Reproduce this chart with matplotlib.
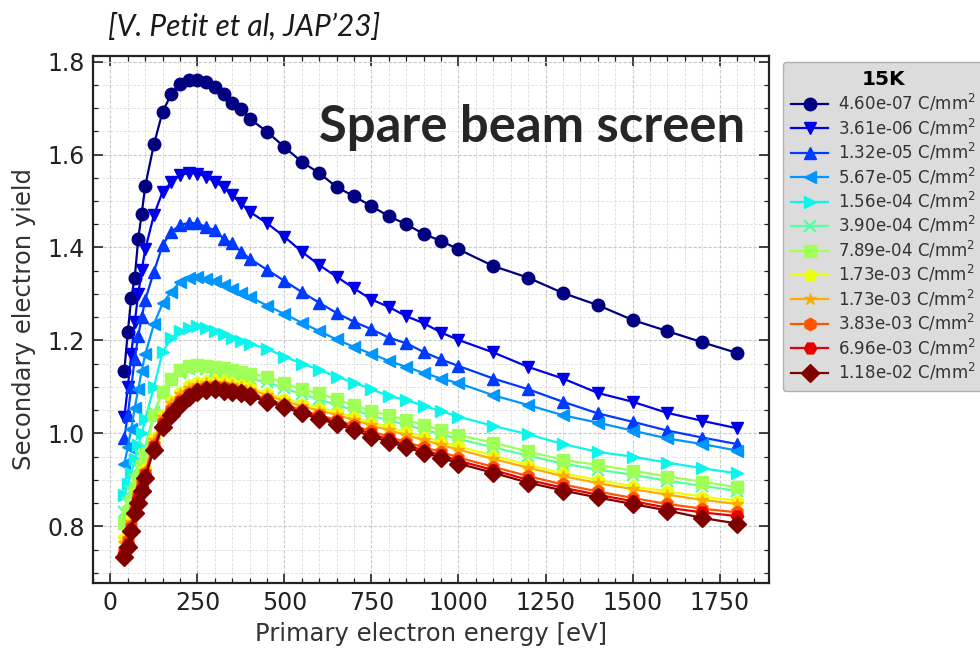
import numpy as np
import matplotlib
matplotlib.use("Agg")
import matplotlib.pyplot as plt
from matplotlib.ticker import MultipleLocator

energy = [40, 50, 60, 70, 80, 90, 100, 125, 150, 175, 200, 225, 250, 275, 300, 325, 350, 375, 400,
          450, 500, 550, 600, 650, 700, 750, 800, 850, 900, 950, 1000,
          1100, 1200, 1300, 1400, 1500, 1600, 1700, 1800]

sey_1 = [1.135, 1.218, 1.292, 1.335, 1.419, 1.473, 1.532, 1.622, 1.692, 1.730, 1.751, 1.761, 1.761, 1.756, 1.745, 1.731, 1.711, 1.699, 1.677,
         1.649, 1.616, 1.584, 1.560, 1.530, 1.510, 1.489, 1.467, 1.450, 1.429, 1.414, 1.396,
         1.360, 1.335, 1.302, 1.276, 1.244, 1.220, 1.196, 1.173]
sey_2 = [1.035, 1.100, 1.170, 1.240, 1.300, 1.351, 1.396, 1.470, 1.520, 1.540, 1.556, 1.560, 1.559, 1.552, 1.541, 1.530, 1.512, 1.495, 1.477,
         1.452, 1.423, 1.391, 1.362, 1.337, 1.312, 1.288, 1.272, 1.252, 1.237, 1.217, 1.201,
         1.174, 1.143, 1.118, 1.087, 1.068, 1.044, 1.027, 1.011]
sey_3 = [0.990, 1.040, 1.100, 1.160, 1.210, 1.250, 1.287, 1.348, 1.405, 1.434, 1.448, 1.453, 1.452, 1.444, 1.437, 1.419, 1.409, 1.391, 1.376,
         1.352, 1.328, 1.304, 1.281, 1.259, 1.240, 1.224, 1.206, 1.194, 1.175, 1.159, 1.145,
         1.118, 1.095, 1.068, 1.043, 1.025, 1.006, 0.991, 0.977]
sey_4 = [0.935, 0.970, 1.010, 1.055, 1.095, 1.135, 1.170, 1.235, 1.280, 1.305, 1.326, 1.335, 1.337, 1.333, 1.328, 1.319, 1.310, 1.301, 1.294,
         1.275, 1.257, 1.238, 1.220, 1.202, 1.186, 1.171, 1.156, 1.143, 1.130, 1.118, 1.108,
         1.082, 1.061, 1.039, 1.023, 1.006, 0.989, 0.977, 0.963]
sey_5 = [0.868, 0.890, 0.915, 0.945, 0.975, 1.000, 1.030, 1.100, 1.175, 1.205, 1.220, 1.226, 1.230, 1.226, 1.220, 1.213, 1.205, 1.199, 1.193,
         1.182, 1.165, 1.150, 1.137, 1.122, 1.109, 1.095, 1.080, 1.072, 1.059, 1.048, 1.036,
         1.016, 0.998, 0.977, 0.960, 0.950, 0.937, 0.925, 0.914]
sey_6 = [0.830, 0.850, 0.875, 0.900, 0.925, 0.950, 0.970, 1.045, 1.090, 1.115, 1.130, 1.138, 1.140, 1.138, 1.135, 1.131, 1.127, 1.122, 1.118,
         1.110, 1.097, 1.084, 1.073, 1.061, 1.050, 1.038, 1.028, 1.018, 1.008, 0.998, 0.988,
         0.970, 0.952, 0.935, 0.922, 0.911, 0.898, 0.887, 0.876]
sey_7 = [0.808, 0.830, 0.855, 0.880, 0.905, 0.930, 0.955, 1.040, 1.090, 1.118, 1.136, 1.145, 1.148, 1.146, 1.143, 1.140, 1.136, 1.132, 1.128,
         1.122, 1.108, 1.095, 1.086, 1.073, 1.061, 1.048, 1.039, 1.029, 1.018, 1.007, 0.996,
         0.980, 0.961, 0.943, 0.932, 0.920, 0.907, 0.896, 0.884]
sey_8 = [0.775, 0.790, 0.815, 0.845, 0.875, 0.900, 0.925, 0.990, 1.040, 1.070, 1.090, 1.103, 1.110, 1.113, 1.114, 1.112, 1.109, 1.105, 1.099,
         1.087, 1.075, 1.064, 1.055, 1.046, 1.035, 1.023, 1.013, 1.002, 0.992, 0.982, 0.972,
         0.952, 0.932, 0.914, 0.900, 0.886, 0.875, 0.864, 0.855]
sey_9 = [0.765, 0.785, 0.810, 0.840, 0.870, 0.895, 0.920, 0.985, 1.035, 1.065, 1.085, 1.098, 1.105, 1.108, 1.109, 1.107, 1.104, 1.100, 1.094,
         1.082, 1.070, 1.058, 1.049, 1.040, 1.029, 1.017, 1.007, 0.996, 0.986, 0.975, 0.965,
         0.945, 0.926, 0.908, 0.893, 0.880, 0.868, 0.857, 0.848]
sey_10 = [0.750, 0.770, 0.800, 0.835, 0.865, 0.890, 0.915, 0.975, 1.025, 1.052, 1.072, 1.087, 1.096, 1.100, 1.101, 1.099, 1.096, 1.092, 1.086,
          1.074, 1.062, 1.050, 1.039, 1.029, 1.017, 1.004, 0.993, 0.981, 0.970, 0.960, 0.948,
          0.928, 0.908, 0.890, 0.875, 0.861, 0.848, 0.838, 0.830]
sey_11 = [0.742, 0.762, 0.795, 0.832, 0.860, 0.885, 0.910, 0.970, 1.020, 1.046, 1.067, 1.082, 1.092, 1.096, 1.098, 1.096, 1.093, 1.089, 1.083,
          1.071, 1.059, 1.046, 1.035, 1.024, 1.012, 0.998, 0.987, 0.975, 0.963, 0.953, 0.941,
          0.921, 0.900, 0.883, 0.868, 0.854, 0.840, 0.830, 0.822]
sey_12 = [0.733, 0.756, 0.790, 0.828, 0.850, 0.875, 0.905, 0.965, 1.014, 1.040, 1.062, 1.078, 1.089, 1.093, 1.095, 1.092, 1.090, 1.086, 1.080,
          1.068, 1.056, 1.043, 1.031, 1.020, 1.007, 0.993, 0.982, 0.970, 0.958, 0.948, 0.935,
          0.915, 0.894, 0.877, 0.862, 0.848, 0.834, 0.818, 0.806]

doses = ["4.60e-07", "3.61e-06", "1.32e-05", "5.67e-05", "1.56e-04", "3.90e-04",
         "7.89e-04", "1.73e-03", "1.73e-03", "3.83e-03", "6.96e-03", "1.18e-02"]
series = [sey_1, sey_2, sey_3, sey_4, sey_5, sey_6, sey_7, sey_8, sey_9, sey_10, sey_11, sey_12]
markers = ['o', 'v', '^', '<', '>', 'x', 's', 'p', '*', 'h', 'H', 'D']

x_ticks = [0, 250, 500, 750, 1000, 1250, 1500, 1750]
y_ticks = [0.8, 1.0, 1.2, 1.4, 1.6, 1.8]

colors = plt.get_cmap('jet')(np.linspace(0, 1, len(series)))

fig = plt.figure(figsize=(9.8, 6.49), dpi=100)
ax = fig.add_axes([93/980, 66/649, 676/980, 527/649])

for y, m, c, d in zip(series, markers, colors, doses):
    ax.plot(energy, y, marker=m, color=c, lw=1.6, ms=9, mew=1.6 if m == 'x' else 1,
            label=f"{d} C/mm$^2$")

ax.set_xlim(-50, 1892)
ax.set_ylim(0.678, 1.812)
ax.set_xticks(x_ticks)
ax.set_yticks(y_ticks)
ax.set_yticklabels([f"{v:.1f}" for v in y_ticks])
ax.xaxis.set_minor_locator(MultipleLocator(50))
ax.yaxis.set_minor_locator(MultipleLocator(0.05))
ax.tick_params(which='both', direction='in', top=True, right=True, labelsize=17, colors='#222222')
ax.tick_params(which='major', length=7, width=1.2, pad=6)
ax.tick_params(which='minor', length=3.5, width=0.9)
ax.grid(which='major', color='#c8c8c8', lw=0.8, ls='--', dashes=(3, 1.5))
ax.grid(which='minor', color='#e2e2e2', lw=0.7, ls='--', dashes=(3, 1.5))
ax.set_axisbelow(True)
for s in ax.spines.values():
    s.set_linewidth(1.6)
    s.set_color('#222222')

ax.set_xlabel("Primary electron energy [eV]", fontsize=17.5, color='#333333', labelpad=5)
ax.set_ylabel("Secondary electron yield", fontsize=17.5, color='#333333', labelpad=8)

leg = fig.legend(loc='upper left', bbox_to_anchor=(783/980, 1 - 62/649), fontsize=12,
                 title="15K", title_fontproperties={'weight': 'bold', 'size': 14.5},
                 facecolor='#dcdcdc', edgecolor='#b0b0b0', framealpha=1, fancybox=True,
                 handlelength=2.2, handletextpad=0.6, labelspacing=0.2, borderpad=0.5,
                 borderaxespad=0)
for t in leg.get_texts():
    t.set_color('#333333')

fig.text(745/980, 1 - 142/649, "Spare beam screen", ha='right', va='baseline',
         fontsize=36.5, fontweight='bold', family='Lato', color='#262626')
fig.text(108/980, 1 - 27/649, "[V. Petit et al, JAP\u201923]", ha='left', va='center',
         fontsize=21.5, style='italic', family='Lato', color='#1a1a1a')

fig.savefig("out.png", dpi=100)
